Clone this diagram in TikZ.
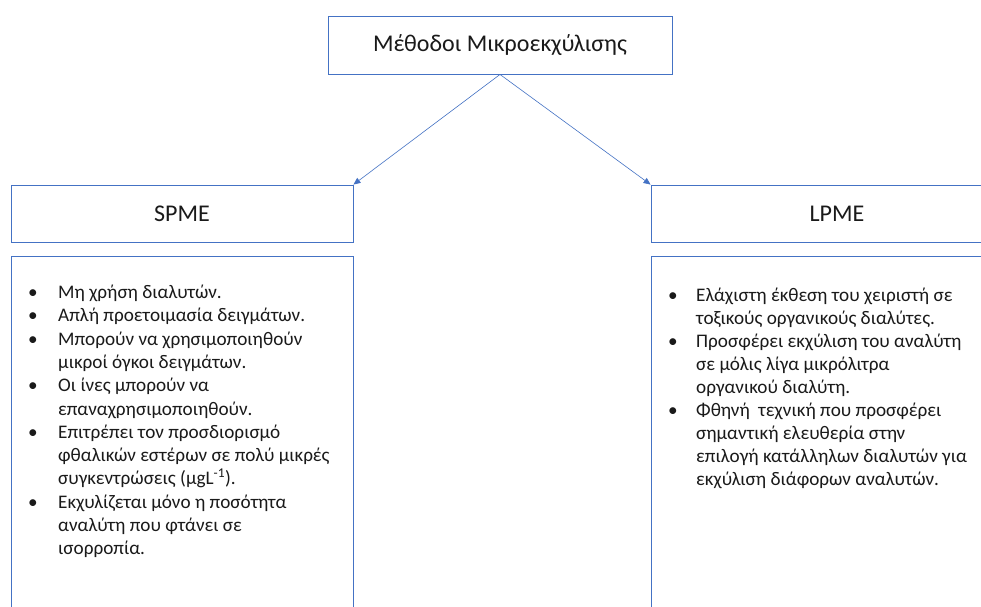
\documentclass[tikz,border=0pt]{standalone}
\usepackage{fontspec}
\setmainfont{Carlito}
\usetikzlibrary{arrows.meta}
\definecolor{MKBlue}{HTML}{4472C4}
\definecolor{MKInk}{HTML}{1A1A1A}
\tikzset{
  headbox/.style={draw=MKBlue,line width=0.9pt,fill=white,text=MKInk,
                  font=\fontsize{24}{29}\selectfont,align=center},
  listbox/.style={draw=MKBlue,line width=0.9pt,fill=white},
  bullets/.style={text=MKInk,font=\fontsize{19.2}{23}\selectfont,
                  inner sep=0pt,anchor=north west},
  branch/.style={-{Triangle[length=7pt,width=6pt]},MKBlue,line width=0.6pt},
}
\newcommand{\itm}[1]{\textbullet & #1\\}
\newcommand{\cnt}[1]{& #1\\}

\begin{document}
\begin{tikzpicture}[x=1pt,y=-1pt]
    % page: 981 x 606, boxes run off the right and bottom edges
    \clip (0,0) rectangle (981,606);
    \fill[white] (0,0) rectangle (981,606);

    \node[headbox,minimum width=344pt,minimum height=58pt] (methods) at (500,45)
      {Μέθοδοι Μικροεκχύλισης};
    \node[headbox,minimum width=342pt,minimum height=57pt] (spme) at (182,213.5) {SPME};
    \node[headbox,minimum width=372pt,minimum height=57pt] (lpme) at (837,213.5) {LPME};

    \node[listbox,minimum width=342pt,minimum height=384pt] (spmelist) at (182,448) {};
    \node[listbox,minimum width=372pt,minimum height=384pt] (lpmelist) at (837,448) {};

    \draw[branch] (methods.south) -- (spme.north east);
    \draw[branch] (methods.south) -- (lpme.north west);

    \node[bullets,font=\fontsize{19.2}{23.3}\selectfont] (spmetext) at (28,282) {%
      \begin{tabular}{@{}p{30pt}@{}l@{}}
        \itm{Μη χρήση διαλυτών.}
        \itm{Απλή προετοιμασία δειγμάτων.}
        \itm{Μπορούν να χρησιμοποιηθούν}
        \cnt{μικροί όγκοι δειγμάτων.}
        \itm{Οι ίνες μπορούν να}
        \cnt{επαναχρησιμοποιηθούν.}
        \itm{Επιτρέπει τον προσδιορισμό}
        \cnt{φθαλικών εστέρων σε πολύ μικρές}
        \cnt{συγκεντρώσεις (μgL\textsuperscript{-1}).}
        \itm{Εκχυλίζεται μόνο η ποσότητα}
        \cnt{αναλύτη που φτάνει σε}
        \cnt{ισορροπία.}
      \end{tabular}};

    \node[bullets] (lpmetext) at (668,285) {%
      \begin{tabular}{@{}p{28pt}@{}l@{}}
        \itm{Ελάχιστη έκθεση του χειριστή σε}
        \cnt{τοξικούς οργανικούς διαλύτες.}
        \itm{Προσφέρει εκχύλιση του αναλύτη}
        \cnt{σε μόλις λίγα μικρόλιτρα}
        \cnt{οργανικού διαλύτη.}
        \itm{Φθηνή\ \ τεχνική που προσφέρει}
        \cnt{σημαντική ελευθερία στην}
        \cnt{επιλογή κατάλληλων διαλυτών για}
        \cnt{εκχύλιση διάφορων αναλυτών.}
      \end{tabular}};
\end{tikzpicture}
\end{document}
